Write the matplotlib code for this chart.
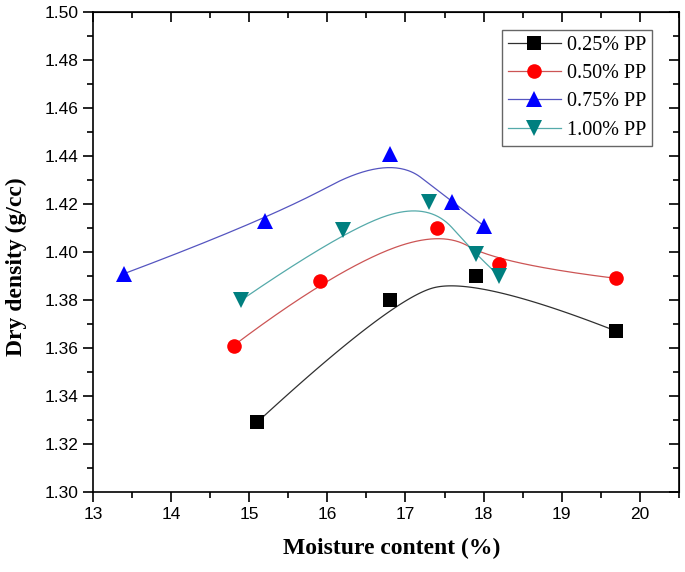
import numpy as np
import matplotlib.pyplot as plt
from matplotlib.ticker import MultipleLocator

# data
x_025 = [15.1, 16.8, 17.9, 19.7]
y_025 = [1.329, 1.380, 1.390, 1.367]
x_050 = [14.8, 15.9, 17.4, 18.2, 19.7]
y_050 = [1.361, 1.388, 1.410, 1.395, 1.389]
x_075 = [13.4, 15.2, 16.8, 17.6, 18.0]
y_075 = [1.391, 1.413, 1.441, 1.421, 1.411]
x_100 = [14.9, 16.2, 17.3, 17.9, 18.2]
y_100 = [1.380, 1.409, 1.421, 1.399, 1.390]
labels = ['0.25% PP', '0.50% PP', '0.75% PP', '1.00% PP']


def bspline2(xs, ys, n=60):
    # clamped quadratic B-spline with the points as control points
    p = np.column_stack([xs, ys])
    mids = (p[1:-2] + p[2:-1]) / 2
    starts = [p[0]] + list(mids)
    ends = list(mids) + [p[-1]]
    ctrls = p[1:-1]
    t = np.linspace(0, 1, n)[:, None]
    out = []
    for a, c, b in zip(starts, ctrls, ends):
        out.append((1 - t) ** 2 * a + 2 * (1 - t) * t * c + t ** 2 * b)
    out = np.vstack(out)
    return out[:, 0], out[:, 1]


plt.rcParams['font.family'] = ['Liberation Sans', 'DejaVu Sans']
fig = plt.figure(figsize=(6.85, 5.72), dpi=100)
ax = fig.add_axes([0.1358, 0.1399, 0.991 - 0.1358, 0.979 - 0.1399])

series = [
    (x_025, y_025, 'black', '#303030', 's', 9.5),
    (x_050, y_050, 'red', '#cc5555', 'o', 10.5),
    (x_075, y_075, 'blue', '#5555c0', '^', 11.5),
    (x_100, y_100, '#007f7f', '#55aaaa', 'v', 11.5),
]
for (xs, ys, mc, lc, mk, ms), lab in zip(series, labels):
    cx, cy = bspline2(xs, ys)
    ax.plot(cx, cy, color=lc, lw=0.9, zorder=2)
    ax.plot(xs, ys, linestyle='none', marker=mk, ms=ms, color=mc,
            markeredgewidth=0, zorder=3)
    ax.plot([], [], color=lc, lw=0.9, marker=mk, ms=ms, mfc=mc,
            markeredgewidth=0, label=lab)

ax.set_xlim(13, 20.5)
ax.set_ylim(1.30, 1.50)
ax.xaxis.set_major_locator(MultipleLocator(1))
ax.xaxis.set_minor_locator(MultipleLocator(0.5))
ax.yaxis.set_major_locator(MultipleLocator(0.02))
ax.yaxis.set_minor_locator(MultipleLocator(0.01))
ax.yaxis.set_major_formatter(plt.FormatStrFormatter('%.2f'))
ax.tick_params(which='major', direction='out', length=7, width=1.2, labelsize=12.5)
ax.tick_params(which='minor', direction='out', length=4, width=1.2)
for s in ax.spines.values():
    s.set_linewidth(1.2)

top = ax.secondary_xaxis('top')
top.xaxis.set_major_locator(MultipleLocator(1))
top.xaxis.set_minor_locator(MultipleLocator(0.5))
top.tick_params(which='both', direction='in', labeltop=False, width=1.2)
top.tick_params(which='major', length=7)
top.tick_params(which='minor', length=4)
right = ax.secondary_yaxis('right')
right.yaxis.set_major_locator(MultipleLocator(0.02))
right.yaxis.set_minor_locator(MultipleLocator(0.01))
right.tick_params(which='both', direction='in', labelright=False, width=1.2)
right.tick_params(which='major', length=7)
right.tick_params(which='minor', length=4)

ax.set_xlabel('Moisture content (%)', fontsize=17, fontweight='bold',
              family='Liberation Serif')
ax.set_ylabel('Dry density (g/cc)', fontsize=17, fontweight='bold',
              family='Liberation Serif')
ax.xaxis.set_label_coords(0.51, -0.095)
ax.yaxis.set_label_coords(-0.113, 0.47)

leg = ax.legend(loc='upper right', bbox_to_anchor=(0.954, 0.9625),
                borderaxespad=0,
                prop={'family': 'Liberation Serif', 'size': 14.5},
                handlelength=2.6, fancybox=False, edgecolor='#666666',
                framealpha=1, borderpad=0.3, labelspacing=0.45,
                handletextpad=0.3)
leg.get_frame().set_linewidth(1.0)

fig.savefig('out.png', dpi=100)
